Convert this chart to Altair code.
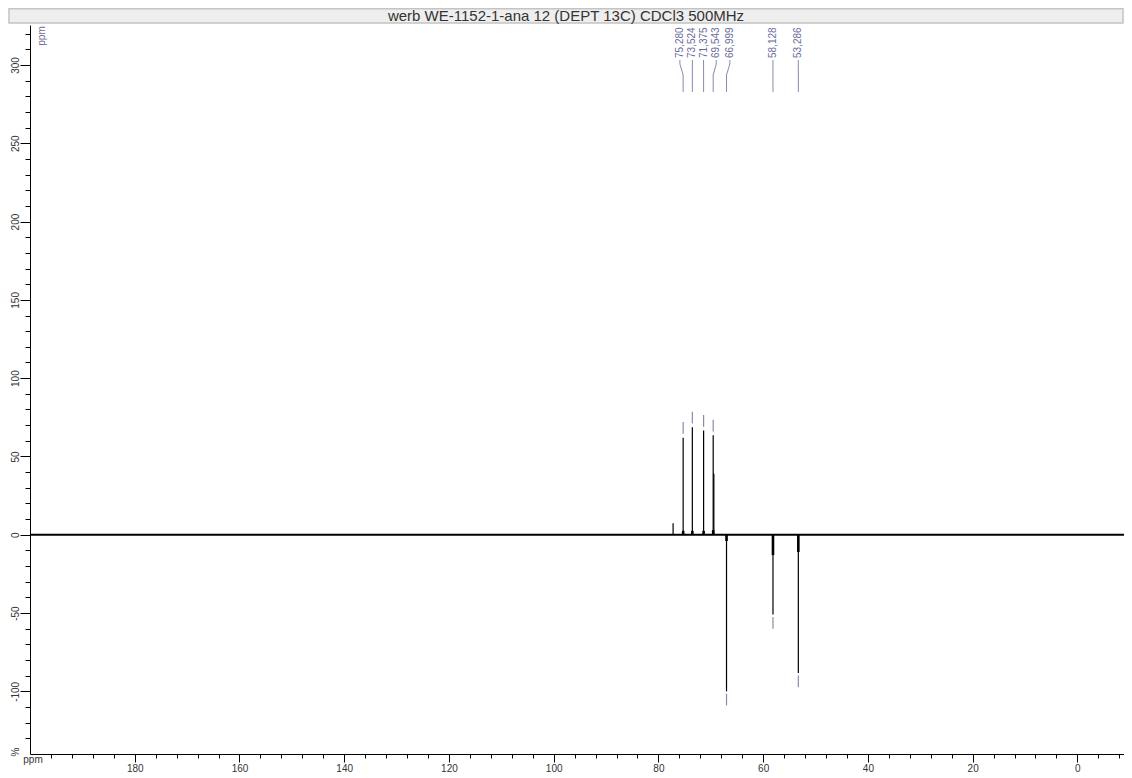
import altair as alt
import pandas as pd

title_text = "werb WE-1152-1-ana 12 (DEPT 13C) CDCl3 500MHz"

# labelled peaks (ppm, intensity %)
peak_ppm = [75.280, 73.524, 71.375, 69.543, 66.999, 58.128, 53.286]
peak_height = [62, 68.6, 66.5, 63.5, -100, -51, -88.3]
peak_labels = ["75,280", "73,524", "71,375", "69,543", "66,999", "58,128", "53,286"]
label_ppm = [75.90, 73.52, 71.38, 68.96, 66.37, 58.13, 53.29]

# unlabelled signals: solvent line and shoulder
extra_ppm = [77.2, 69.42]
extra_height = [7.3, 39]

# broad feet of the lines
foot_ppm = [75.280, 73.524, 71.375, 69.543, 66.999, 58.128, 53.286]
foot_height = [2.5, 2.5, 2.5, 3, -4, -13, -11]

# spectrum baseline extent
base_start = [200]
base_end = [-8.9]

x_ticks = list(range(196, -9, -4))
y_ticks = list(range(-130, 321, 10))

x_domain = [200, -8.9]
y_domain = [-140, 325.5]

W, H = 1094, 729
LABEL_COLOR = "#6b6b9a"
MARK_COLOR = "#8a8aae"
FONT = "Liberation Sans"

peaks = pd.DataFrame({"x": peak_ppm, "h": peak_height, "lab": peak_labels, "lx": label_ppm})
peaks["zero"] = 0.0
peaks["m1"] = [h + 2.5 if h > 0 else h - 1.5 for h in peak_height]
peaks["m2"] = [h + 10 if h > 0 else h - 9 for h in peak_height]
extras = pd.DataFrame({"x": extra_ppm, "h": extra_height, "zero": 0.0})
feet = pd.DataFrame({"x": foot_ppm, "h": foot_height, "zero": 0.0})
base = pd.DataFrame({"x": base_start, "x2": base_end, "zero": [0.0]})

xscale = alt.Scale(domain=x_domain, nice=False, zero=False)
yscale = alt.Scale(domain=y_domain, nice=False, zero=False)

xaxis = alt.Axis(
    title=None, values=x_ticks, grid=False,
    tickSize={"condition": {"test": "datum.value % 20 === 0", "value": 8}, "value": 4},
    labelExpr="datum.value % 20 === 0 ? '' + datum.value : ''",
    labelPadding=1, labelFlush=False, labelOverlap=False, labelBound=False,
    domainColor="#000", tickColor="#000", labelColor="#333",
    labelFont=FONT, labelFontSize=10,
)
yaxis = alt.Axis(
    title=None, values=y_ticks, grid=False,
    tickSize={"condition": {"test": "datum.value % 50 === 0", "value": 10}, "value": 5},
    labelExpr="datum.value % 50 === 0 ? '' + datum.value : ''",
    labelAngle=270, labelAlign="center", labelBaseline="bottom",
    labelPadding=0, labelFlush=False, labelOverlap=False, labelBound=False,
    domainColor="#000", tickColor="#000", labelColor="#333",
    labelFont=FONT, labelFontSize=10,
)


def X(f):
    return alt.X(f, type="quantitative", scale=xscale, axis=xaxis)


def Y(f):
    return alt.Y(f, type="quantitative", scale=yscale, axis=yaxis)


baseline = alt.Chart(base).mark_rule(color="#000", strokeWidth=2).encode(
    x=X("x"), x2="x2", y=Y("zero")
)
peak_rules = alt.Chart(peaks).mark_rule(color="#000", strokeWidth=1.2).encode(
    x=X("x"), y=Y("zero"), y2="h"
)
extra_rules = alt.Chart(extras).mark_rule(color="#000", strokeWidth=1.2).encode(
    x=X("x"), y=Y("zero"), y2="h"
)
foot_rules = alt.Chart(feet).mark_rule(color="#000", strokeWidth=2.6).encode(
    x=X("x"), y=Y("zero"), y2="h"
)
markers = alt.Chart(peaks).mark_rule(color=MARK_COLOR, strokeWidth=1.2).encode(
    x=X("x"), y=Y("m1"), y2="m2"
)
conn1 = alt.Chart(peaks).mark_rule(color=MARK_COLOR, strokeWidth=1).encode(
    x=X("lx"), x2="lx", y=alt.value(35), y2=alt.value(39)
)
conn2 = alt.Chart(peaks).mark_rule(color=MARK_COLOR, strokeWidth=1).encode(
    x=X("lx"), x2="x", y=alt.value(39), y2=alt.value(50)
)
conn3 = alt.Chart(peaks).mark_rule(color=MARK_COLOR, strokeWidth=1).encode(
    x=X("x"), x2="x", y=alt.value(50), y2=alt.value(67)
)
peak_text = alt.Chart(peaks).mark_text(
    angle=270, align="left", baseline="middle", font=FONT, fontSize=10, color=LABEL_COLOR
).encode(x=X("lx"), y=alt.value(33), text="lab")

title_df = pd.DataFrame({"t": [title_text]})
title_box = alt.Chart(title_df).mark_rect(
    fill="#eeeeee", stroke="#c4c4c4", strokeWidth=1.5
).encode(x=alt.value(-21), x2=alt.value(W - 1), y=alt.value(-16.2), y2=alt.value(-2))
title_txt = alt.Chart(title_df).mark_text(
    font=FONT, fontSize=15, color="#333", align="center", baseline="middle"
).encode(x=alt.value(536), y=alt.value(-9), text="t")

ppm_top = alt.Chart(pd.DataFrame({"t": ["ppm"]})).mark_text(
    angle=270, font=FONT, fontSize=10, color=LABEL_COLOR, align="center", baseline="middle"
).encode(x=alt.value(11.5), y=alt.value(11), text="t")
ppm_bottom = alt.Chart(pd.DataFrame({"t": ["ppm"]})).mark_text(
    font=FONT, fontSize=10, color="#333", align="center", baseline="middle"
).encode(x=alt.value(3), y=alt.value(6 + H), text="t")
pct = alt.Chart(pd.DataFrame({"t": ["%"]})).mark_text(
    angle=270, font=FONT, fontSize=10, color="#333", align="center", baseline="middle"
).encode(x=alt.value(-14), y=alt.value(H - 2), text="t")

chart = alt.layer(
    title_box, title_txt, baseline, extra_rules, foot_rules, peak_rules, markers,
    conn1, conn2, conn3, peak_text, ppm_top, ppm_bottom, pct,
).properties(
    width=W, height=H,
    autosize=alt.AutoSizeParams(type="none"),
    padding={"left": 22, "top": 17, "right": 0, "bottom": 21},
    background="white",
).configure_view(stroke=None)

chart.save("out.html", embed_options={"renderer": "svg", "actions": False})
